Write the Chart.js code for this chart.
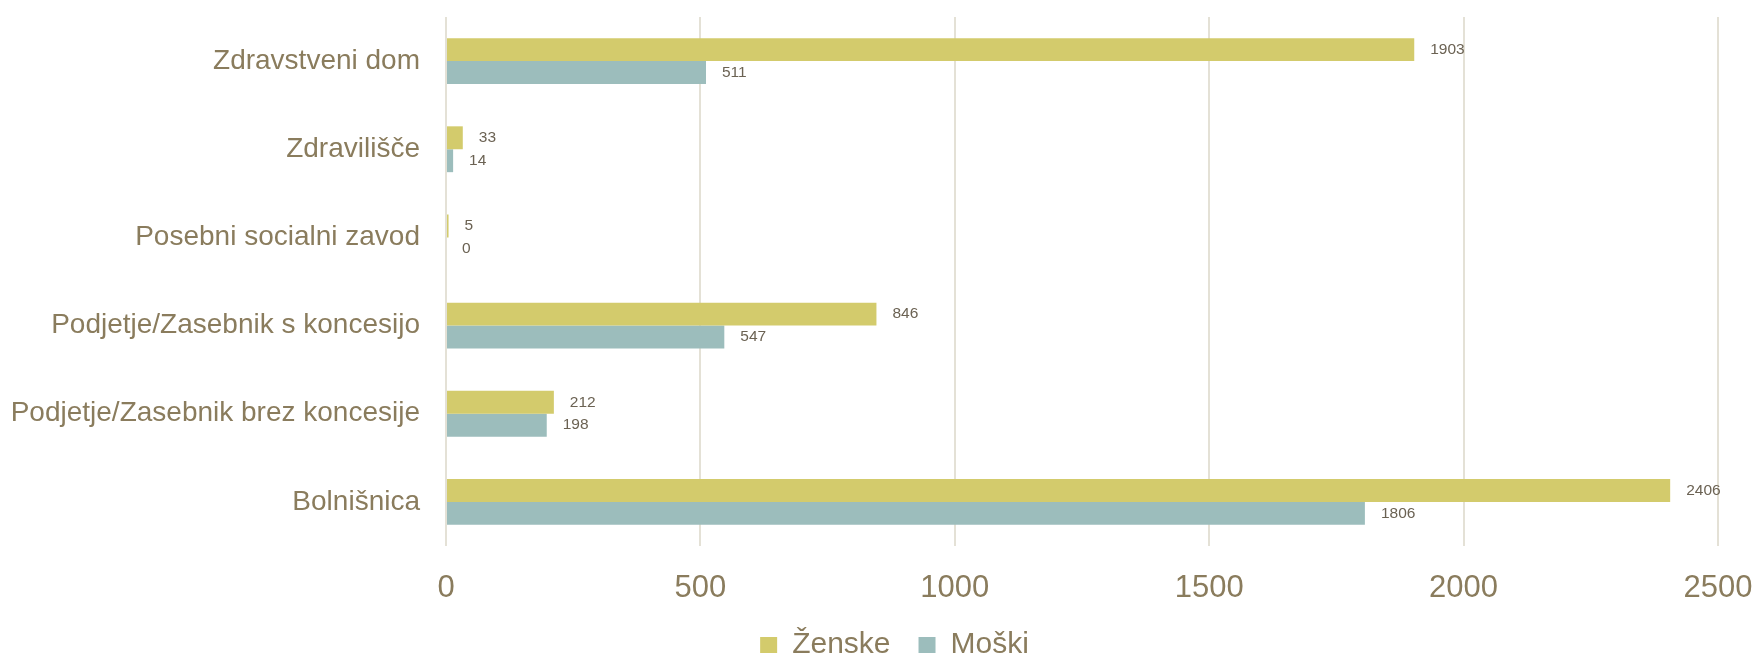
<!DOCTYPE html>
<html>
<head>
<meta charset="utf-8">
<script src="https://cdn.jsdelivr.net/npm/chart.js@4"></script>
<style>
  html, body { margin: 0; padding: 0; background: #FFFFFF; }
  #wrap { width: 1760px; height: 658px; }
</style>
</head>
<body>
<div id="wrap"><canvas id="myChart" width="1760" height="658"></canvas></div>
<script>
const labelColor = "#8A7C5D";
const valueColor = "#6B6253";
const gridColor = "#E4E1D6";
let fonte = "'Liberation Sans', Arial, sans-serif";

let kategorije = [
  "Zdravstveni dom",
  "Zdravilišče",
  "Posebni socialni zavod",
  "Podjetje/Zasebnik s koncesijo",
  "Podjetje/Zasebnik brez koncesije",
  "Bolnišnica",
];
let dataZenske = [1903, 33, 5, 846, 212, 2406];
let dataMoski = [511, 14, 0, 547, 198, 1806];
let xTicks = [0, 500, 1000, 1500, 2000, 2500];

// values written at the end of each bar
const barValues = {
  id: "barValues",
  afterDatasetsDraw(chart) {
    const ctx = chart.ctx;
    ctx.save();
    ctx.font = "15.5px " + fonte;
    ctx.fillStyle = valueColor;
    ctx.textAlign = "left";
    ctx.textBaseline = "middle";
    chart.data.datasets.forEach((dataset, i) => {
      chart.getDatasetMeta(i).data.forEach((bar, j) => {
        ctx.fillText(String(dataset.data[j]), bar.x + 16, bar.y);
      });
    });
    ctx.restore();
  },
};

// the legend sits a bit right of the canvas centre in the original
const legendShift = {
  id: "legendShift",
  afterLayout(chart) {
    if (chart.legend) {
      chart.legend.left += 9;
      chart.legend.right += 9;
    }
  },
};

Chart.defaults.font.family = fonte;

const chart = new Chart(document.getElementById("myChart"), {
  type: "bar",
  data: {
    labels: kategorije,
    datasets: [
      {
        data: dataZenske,
        label: "Ženske",
        backgroundColor: "#D3CB6C",
        borderWidth: 0,
      },
      {
        data: dataMoski,
        label: "Moški",
        backgroundColor: "#9CBDBC",
        borderWidth: 0,
      },
    ],
  },
  plugins: [barValues, legendShift],
  options: {
    indexAxis: "y",
    responsive: false,
    animation: false,
    categoryPercentage: 0.52,
    barPercentage: 1.0,
    layout: {
      padding: { left: 11, right: 0, top: 17, bottom: -12 },
    },
    plugins: {
      legend: {
        display: true,
        position: "bottom",
        labels: {
          boxWidth: 17,
          boxHeight: 16,
          padding: 28,
          color: labelColor,
          font: { size: 30 },
        },
      },
      title: { display: false },
      tooltip: { enabled: false },
    },
    scales: {
      x: {
        type: "linear",
        min: 0,
        max: 2500,
        border: { display: false },
        grid: {
          color: gridColor,
          lineWidth: 2,
          drawTicks: false,
        },
        afterBuildTicks: (axis) => {
          axis.ticks = xTicks.map((v) => ({ value: v }));
        },
        // keep the plot where the reference has it
        afterFit: (axis) => {
          axis.height = 56;
          axis.paddingLeft = 0;
          axis.paddingRight = 42;
        },
        ticks: {
          color: labelColor,
          padding: 24,
          font: { size: 31 },
          callback: (v) => String(v),
        },
      },
      y: {
        border: { display: false },
        grid: { display: false, drawTicks: false },
        afterFit: (axis) => {
          axis.width = 435;
          axis.paddingTop = 0;
          axis.paddingBottom = 0;
        },
        ticks: {
          color: labelColor,
          padding: 26,
          font: { size: 28 },
        },
      },
    },
  },
});
</script>
</body>
</html>
